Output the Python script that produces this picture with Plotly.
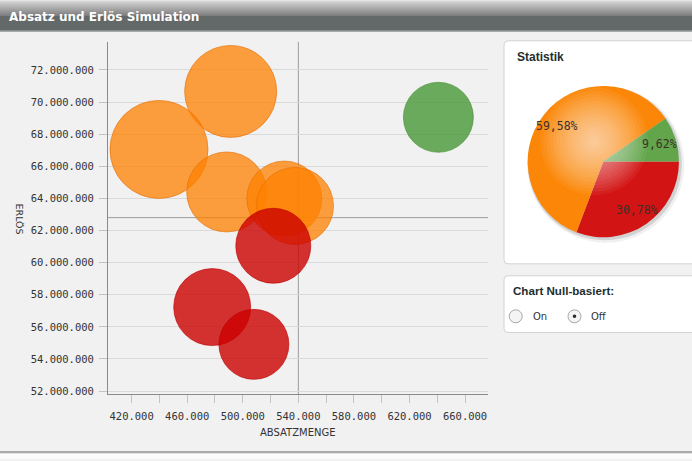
import math
import plotly.graph_objects as go

W, H = 692, 461

# ---------------- data ----------------
kategorie = ["mittel", "mittel", "mittel", "mittel", "mittel", "schlecht", "schlecht", "schlecht", "gut"]
absatzmenge = [491300, 439700, 488400, 529900, 537600, 521950, 478000, 508000, 640800]
erloes = [70_660_000, 67_050_000, 64_400_000, 63_990_000, 63_530_000,
          61_050_000, 57_230_000, 54_910_000, 69_050_000]
volumen = [92, 98, 80, 75, 77, 75, 77, 70, 70]

referenz_menge = 540_000
referenz_erloes = 62_800_000

pie_labels = ["schlecht", "mittel", "gut"]
pie_values = [30.78, 59.58, 9.62]

x_ticks = [420000, 460000, 500000, 540000, 580000, 620000, 660000]
y_ticks = [52e6, 54e6, 56e6, 58e6, 60e6, 62e6, 64e6, 66e6, 68e6, 70e6, 72e6]

# ---------------- styles ----------------
fill = {"mittel": "rgba(255,128,0,0.75)", "schlecht": "rgba(204,0,0,0.80)", "gut": "rgba(72,152,56,0.80)"}
edge = {"mittel": "rgba(230,110,0,0.6)", "schlecht": "rgba(190,0,0,0.6)", "gut": "rgba(70,140,50,0.6)"}
pie_colors = ["#d31414", "#fb8607", "#62a54b"]


def pxx(x):
    return x / W


def pxy(y):
    return 1 - y / H


fig = go.Figure()

for cat in ["mittel", "schlecht", "gut"]:
    idx = [i for i, k in enumerate(kategorie) if k == cat]
    fig.add_trace(go.Scatter(
        x=[absatzmenge[i] for i in idx],
        y=[erloes[i] for i in idx],
        mode="markers",
        marker=dict(size=[volumen[i] for i in idx], sizemode="diameter", sizeref=1, opacity=1,
                    color=fill[cat], line=dict(color=edge[cat], width=1)),
        showlegend=False, hoverinfo="x+y",
    ))

# pie geometry
pcx, pcy, pr = 603.3, 162.3, 76
fig.add_trace(go.Pie(
    labels=pie_labels, values=pie_values, sort=False, direction="clockwise", rotation=90,
    marker=dict(colors=pie_colors, line=dict(width=0)),
    textinfo="none", showlegend=False,
    domain=dict(x=[pxx(pcx - pr), pxx(pcx + pr)], y=[pxy(pcy + pr), pxy(pcy - pr)]),
))

shapes = []
annotations = []


def rrect(x0, y0, x1, y1, r, fillc, linec):
    p = (f"M {pxx(x0 + r)},{pxy(y0)} L {pxx(x1 - r)},{pxy(y0)} Q {pxx(x1)},{pxy(y0)} {pxx(x1)},{pxy(y0 + r)} "
         f"L {pxx(x1)},{pxy(y1 - r)} Q {pxx(x1)},{pxy(y1)} {pxx(x1 - r)},{pxy(y1)} "
         f"L {pxx(x0 + r)},{pxy(y1)} Q {pxx(x0)},{pxy(y1)} {pxx(x0)},{pxy(y1 - r)} "
         f"L {pxx(x0)},{pxy(y0 + r)} Q {pxx(x0)},{pxy(y0)} {pxx(x0 + r)},{pxy(y0)} Z")
    return dict(type="path", path=p, xref="paper", yref="paper", fillcolor=fillc,
                line=dict(color=linec, width=1), layer="below")


def circ(cx, cy, r, fillc, linec=None, lw=0, layer="below"):
    return dict(type="circle", xref="paper", yref="paper",
                x0=pxx(cx - r), x1=pxx(cx + r), y0=pxy(cy + r), y1=pxy(cy - r),
                fillcolor=fillc, line=dict(color=linec or "rgba(0,0,0,0)", width=lw), layer=layer)


# title bar gradient
top_cols = ["#e4e4e4", "#d6d6d6", "#cdcdcd", "#c6c6c6", "#c0c0c0", "#bababa", "#b4b4b4",
            "#aeaeae", "#a8a8a8", "#a2a2a2", "#9c9c9c", "#969696", "#909090", "#8a8a8a", "#848484", "#7e7e7e"]
for i, c in enumerate(top_cols):
    shapes.append(dict(type="rect", xref="paper", yref="paper", x0=0, x1=1,
                       y0=pxy(i + 1), y1=pxy(i), fillcolor=c, line=dict(width=0), layer="below"))
shapes.append(dict(type="rect", xref="paper", yref="paper", x0=0, x1=1, y0=pxy(31), y1=pxy(16),
                   fillcolor="#636969", line=dict(width=0), layer="below"))
shapes.append(dict(type="rect", xref="paper", yref="paper", x0=0, x1=1, y0=pxy(32), y1=pxy(31),
                   fillcolor="#8e9292", line=dict(width=0), layer="below"))
# bottom border
shapes.append(dict(type="rect", xref="paper", yref="paper", x0=0, x1=1, y0=pxy(455.5), y1=pxy(453),
                   fillcolor="#a9a9a9", line=dict(width=0), layer="below"))
shapes.append(dict(type="rect", xref="paper", yref="paper", x0=0, x1=1, y0=0, y1=pxy(455.5),
                   fillcolor="#fbfbfb", line=dict(width=0), layer="below"))

# side panels
shapes.append(rrect(504, 41, 705, 265, 4, "#ffffff", "#d2d2d2"))
shapes.append(rrect(504, 277, 705, 334, 4, "#ffffff", "#d2d2d2"))

# pie shadow
shapes.append(circ(pcx + 2.5, pcy + 3, pr + 2.5, "rgba(0,0,0,0.06)"))
shapes.append(circ(pcx + 1.5, pcy + 2, pr + 1, "rgba(0,0,0,0.12)"))

# pie highlight (radial gradient approximation)
hx, hy = 594, 142
for k in range(16):
    r = 54 - k * 3.3
    shapes.append(circ(hx, hy, r, "rgba(255,255,255,0.055)", layer="above"))

# reference cross lines
shapes.append(dict(type="line", xref="x", yref="y domain", x0=referenz_menge, x1=referenz_menge,
                   y0=0, y1=1, line=dict(color="#9c9c9c", width=1), layer="below"))
shapes.append(dict(type="line", xref="x domain", yref="y", x0=0, x1=1, y0=referenz_erloes,
                   y1=referenz_erloes, line=dict(color="#9c9c9c", width=1), layer="below"))

# radio buttons
for cx, sel in [(515.7, False), (574.5, True)]:
    shapes.append(circ(cx, 317.7, 6.5, "#f4f4f4", "#a8a8a8", 1, layer="above"))
    if sel:
        shapes.append(circ(cx, 317.7, 1.8, "#2a2a2a", layer="above"))

# pie labels from slice angles
total = sum(pie_values)
start = 0.0
for v in pie_values:
    mid = start + v / total * 360 / 2
    start += v / total * 360
    ang = math.radians(mid)  # clockwise from 3 o'clock
    lx = pcx + 0.77 * pr * math.cos(ang)
    ly = pcy + 0.77 * pr * math.sin(ang)
    annotations.append(dict(text=f"{v:.2f}%".replace(".", ","), x=pxx(lx), y=pxy(ly),
                            xanchor="center", yanchor="middle",
                            xref="paper", yref="paper", showarrow=False,
                            font=dict(family="DejaVu Sans Mono", size=11.5, color="#3a3028")))

annotations += [
    dict(text="<b>Absatz und Erlös Simulation</b>", x=pxx(7), y=pxy(17), xanchor="left", yanchor="middle",
         xref="paper", yref="paper", showarrow=False,
         font=dict(family="DejaVu Sans", size=12, color="#ffffff")),
    dict(text="<b>Statistik</b>", x=pxx(515), y=pxy(57), xanchor="left", yanchor="middle",
         xref="paper", yref="paper", showarrow=False,
         font=dict(family="Liberation Sans", size=12, color="#1e2e2e")),
    dict(text="<b>Chart Null-basiert:</b>", x=pxx(510.5), y=pxy(292), xanchor="left", yanchor="middle",
         xref="paper", yref="paper", showarrow=False,
         font=dict(family="Liberation Sans", size=11.6, color="#1e2e2e")),
    dict(text="On", x=pxx(530.5), y=pxy(318), xanchor="left", yanchor="middle",
         xref="paper", yref="paper", showarrow=False,
         font=dict(family="DejaVu Sans", size=10, color="#333333")),
    dict(text="Off", x=pxx(588.5), y=pxy(318), xanchor="left", yanchor="middle",
         xref="paper", yref="paper", showarrow=False,
         font=dict(family="DejaVu Sans", size=10, color="#333333")),
    dict(text="ABSATZMENGE", x=pxx(298), y=pxy(434), xanchor="center", yanchor="middle",
         xref="paper", yref="paper", showarrow=False,
         font=dict(family="DejaVu Sans", size=10, color="#333333")),
    dict(text="ERLÖS", x=pxx(19.5), y=pxy(220), xanchor="center", yanchor="middle", textangle=90,
         xref="paper", yref="paper", showarrow=False,
         font=dict(family="DejaVu Sans", size=9.5, color="#333333")),
]

tickfont = dict(family="DejaVu Sans Mono", size=10.5, color="#333333")

fig.update_layout(
    width=W, height=H, autosize=False,
    margin=dict(l=0, r=0, t=0, b=0, pad=0),
    paper_bgcolor="#f1f1f1", plot_bgcolor="#f1f1f1",
    separators=",.",
    shapes=shapes, annotations=annotations,
    xaxis=dict(domain=[pxx(108), pxx(488)], range=[403000, 676500],
               tickmode="array", tickvals=x_ticks, tickformat=",.0f",
               ticks="outside", ticklen=8, tickcolor="#c4c4c4", tickfont=tickfont,
               ticklabelstandoff=4,
               minor=dict(dtick=20000, tick0=420000, ticks="outside", ticklen=8, tickcolor="#c4c4c4"),
               showgrid=False, zeroline=False, showline=True, linecolor="#8a8a8a", linewidth=1,
               fixedrange=True),
    yaxis=dict(domain=[pxy(396), pxy(42)], range=[51_800_000, 73_750_000],
               tickmode="array", tickvals=y_ticks, tickformat=",.0f",
               ticks="outside", ticklen=8, tickcolor="#c4c4c4", tickfont=tickfont,
               ticklabelstandoff=3,
               showgrid=True, gridcolor="#dadada", gridwidth=1,
               zeroline=False, showline=True, linecolor="#8a8a8a", linewidth=1,
               fixedrange=True),
)

fig.write_html("out.html")
